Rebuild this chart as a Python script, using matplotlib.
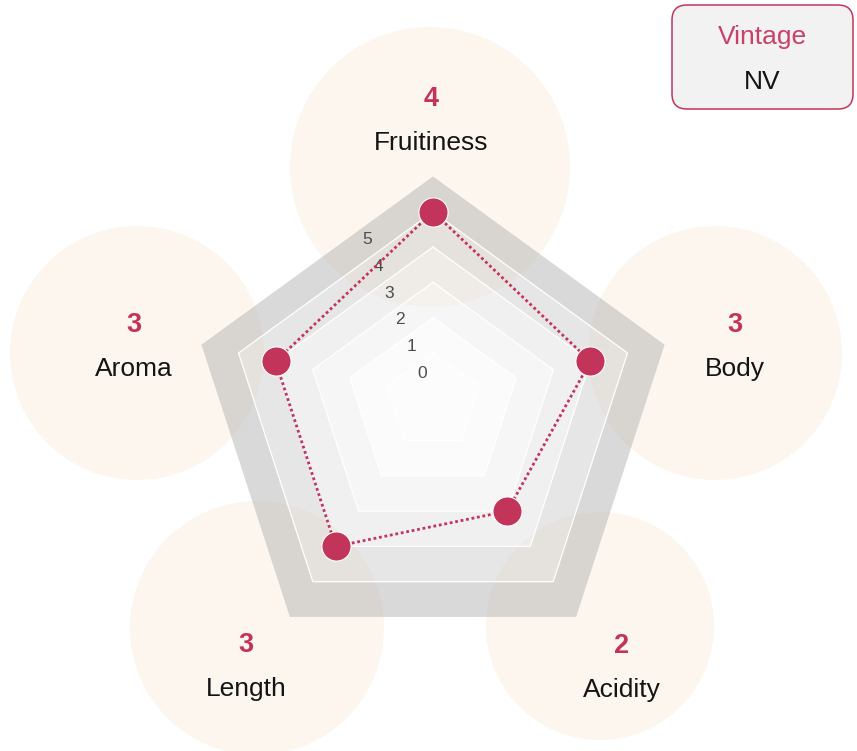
import numpy as np
import matplotlib.pyplot as plt
from matplotlib.patches import Circle, FancyBboxPatch, PathPatch
from matplotlib.path import Path

# data
categories = ["Fruitiness", "Body", "Acidity", "Length", "Aroma"]
scores = [4, 3, 2, 3, 3]
scale_ticks = [0, 1, 2, 3, 4, 5]
legend_title = "Vintage"
legend_value = "NV"

# layout (pixel space, y pointing down)
W, H = 857, 751
CX, CY = 433.0, 396.7          # centre of the web's bounding box
R0, DR = 48.5, 39.0            # radius of level 0 and step per level
label_pos = [(431, 99), (735, 325), (622, 646), (246, 645), (134, 325)]
bubble_pos = [(430, 167), (715, 353), (600, 626), (257, 628), (137, 353)]

FONT = "Liberation Sans"
CRIMSON = "#c3345b"
PEACH = "#fdf6ee"
band_colors = ["#f9f9f9", "#efefef", "#e3e3e3", "#cfcfcf", "#b5b5b5"]
core_color = "#fcfcfc"

angles = np.radians(90 - 72 * np.arange(len(categories)))


def radius(v):
    return R0 + DR * v


def to_xy(v, ang):
    r = radius(v)
    cy = CY + 0.0955 * r
    return CX + r * np.cos(ang), cy - r * np.sin(ang)


def ring(v):
    pts = [to_xy(v, a) for a in angles]
    return np.array(pts + [pts[0]])


fig = plt.figure(figsize=(W / 100, H / 100), dpi=100)
ax = fig.add_axes([0, 0, 1, 1])
ax.set_xlim(0, W)
ax.set_ylim(H, 0)
ax.axis("off")

# bubbles behind the labels
for (bx, by), s in zip(bubble_pos, scores):
    ax.add_patch(Circle((bx, by), 88 + 13 * s, color=PEACH, lw=0, zorder=1))

# grey bands between levels (annuli, semi transparent)
for i in range(len(scale_ticks) - 1):
    outer = ring(scale_ticks[i + 1])
    inner = ring(scale_ticks[i])[::-1]
    verts = np.vstack([outer, inner])
    codes = ([Path.MOVETO] + [Path.LINETO] * (len(outer) - 2) + [Path.CLOSEPOLY]) * 2
    ax.add_patch(PathPatch(Path(verts, codes), facecolor=band_colors[i],
                           alpha=0.5, lw=0, zorder=2))
core = ring(0)
ax.fill(core[:, 0], core[:, 1], color=core_color, lw=0, zorder=2)
for t in scale_ticks[:-1]:
    p = ring(t)
    ax.plot(p[:, 0], p[:, 1], color="white", lw=0.9, zorder=3)

# scale labels
for t in scale_ticks:
    ax.text(422.5 - 11.1 * t, 373.3 - 26.7 * t, str(t), ha="center", va="center",
            fontsize=12.5, color="#4d4d4d", family=FONT, zorder=4)

# score polygon
pts = np.array([to_xy(s, a) for s, a in zip(scores, angles)])
closed = np.vstack([pts, pts[:1]])
ax.plot(closed[:, 0], closed[:, 1], color=CRIMSON, lw=2.0, dashes=(1, 1),
        dash_capstyle="butt", zorder=5)
ax.plot(pts[:, 0], pts[:, 1], "o", ms=21, color=CRIMSON, mec="white", mew=0.8,
        zorder=6)

# category labels
for (lx, ly), name, s in zip(label_pos, categories, scores):
    ax.text(lx, ly, str(s), ha="center", va="center", fontsize=19.5,
            fontweight="bold", color=CRIMSON, family=FONT, zorder=7)
    ax.text(lx, ly + 44, name, ha="center", va="center", fontsize=19,
            color="#141414", family=FONT, zorder=7)

# vintage box
ax.add_patch(FancyBboxPatch((672, 5), 181, 104, boxstyle="round,pad=0,rounding_size=15",
                            facecolor="#f2f2f2", edgecolor=CRIMSON, lw=1.1, zorder=7))
ax.text(762, 37, legend_title, ha="center", va="center", fontsize=19,
        color="#c8416a", family=FONT, zorder=8)
ax.text(762, 82, legend_value, ha="center", va="center", fontsize=19,
        color="#141414", family=FONT, zorder=8)

fig.savefig("out.png", dpi=100)
